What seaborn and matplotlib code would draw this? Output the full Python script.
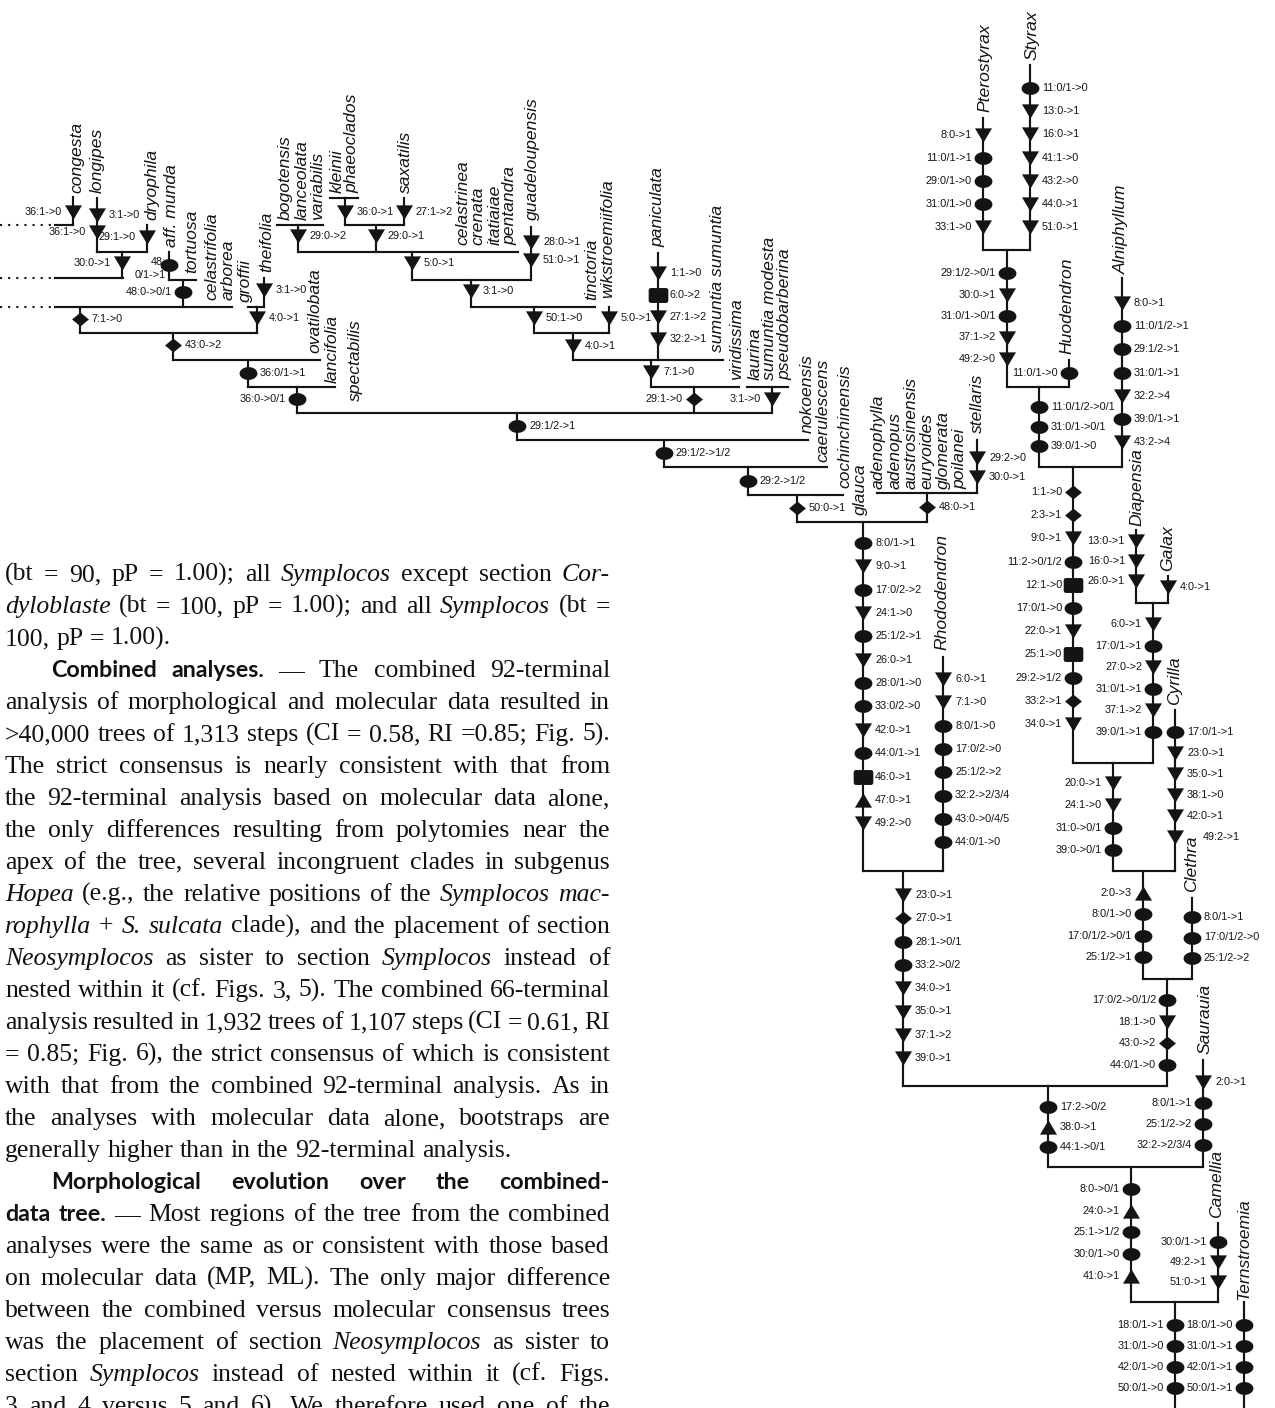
import numpy as np
import pandas as pd
import matplotlib
matplotlib.use("Agg")
import matplotlib.pyplot as plt
from matplotlib.path import Path
import seaborn as sns

# ------------------------------------------------------------------
# Tree content: terminal taxa and the character-state changes that
# are mapped on each branch (label, marker shape, label side).
# ------------------------------------------------------------------
taxa = [
    "congesta", "longipes", "dryophila", "aff. munda", "tortuosa", "celastrifolia",
    "arborea", "groffii", "theifolia", "bogotensis", "lanceolata", "variabilis",
    "kleinii", "phaeoclados", "saxatilis", "celastrinea", "crenata", "itatiaiae",
    "pentandra", "guadeloupensis", "ovatilobata", "lancifolia", "spectabilis",
    "tinctoria", "wikstroemiifolia", "paniculata", "sumuntia sumuntia", "viridissima",
    "laurina", "sumuntia modesta", "pseudobarberina", "nokoensis", "caerulescens",
    "cochinchinensis", "glauca", "adenophylla", "adenopus", "austrosinensis",
    "euryoides", "glomerata", "poilanei", "stellaris", "Rhododendron", "Pterostyrax",
    "Styrax", "Huodendron", "Alniphyllum", "Diapensia", "Galax", "Cyrilla",
    "Clethra", "Saurauia", "Camellia", "Ternstroemia",
]

branch_changes = {
    "congesta": [("36:1->0", "tri", "L")],
    "longipes": [("3:1->0", "tri", "R"), ("36:1->0", "tri", "L")],
    "dryophila": [("29:1->0", "tri", "L")],
    "congesta-dryophila": [("30:0->1", "tri", "L")],
    "aff. munda": [("48:\n0/1->1", "ell", "L")],
    "munda-tortuosa": [("48:0->0/1", "ell", "L")],
    "theifolia": [("3:1->0", "tri", "R")],
    "groffii-theifolia": [("4:0->1", "tri", "R")],
    "congesta-arborea": [("7:1->0", "dia", "R")],
    "congesta-theifolia": [("43:0->2", "dia", "R")],
    "congesta-ovatilobata": [("36:0/1->1", "ell", "R")],
    "congesta-lancifolia": [("36:0->0/1", "ell", "L")],
    "bogotensis-variabilis": [("29:0->2", "tri", "R")],
    "kleinii-phaeoclados": [("36:0->1", "tri", "R")],
    "saxatilis": [("27:1->2", "tri", "R")],
    "kleinii-saxatilis": [("29:0->1", "tri", "R")],
    "guadeloupensis": [("28:0->1", "tri", "R"), ("51:0->1", "tri", "R")],
    "bogotensis-pentandra": [("5:0->1", "tri", "R")],
    "bogotensis-guadeloupensis": [("3:1->0", "tri", "R")],
    "bogotensis-tinctoria": [("50:1->0", "tri", "R")],
    "wikstroemiifolia": [("5:0->1", "tri", "R")],
    "bogotensis-wikstroemiifolia": [("4:0->1", "tri", "R")],
    "paniculata": [("1:1->0", "tri", "R"), ("6:0->2", "sq", "R"),
                   ("27:1->2", "tri", "R"), ("32:2->1", "tri", "R")],
    "bogotensis-sumuntia": [("7:1->0", "tri", "R")],
    "bogotensis-viridissima": [("29:1->0", "dia", "L")],
    "laurina-pseudobarberina": [("3:1->0", "tri", "L")],
    "core Symplocos": [("29:1/2->1", "ell", "R")],
    "plus nokoensis": [("29:1/2->1/2", "ell", "R")],
    "plus caerulescens": [("29:2->1/2", "ell", "R")],
    "plus cochinchinensis": [("50:0->1", "dia", "R")],
    "adenophylla-stellaris": [("48:0->1", "dia", "R")],
    "stellaris": [("29:2->0", "tri", "R"), ("30:0->1", "tri", "R")],
    "Symplocaceae": [("8:0/1->1", "ell", "R"), ("9:0->1", "tri", "R"),
                     ("17:0/2->2", "ell", "R"), ("24:1->0", "tri", "R"),
                     ("25:1/2->1", "ell", "R"), ("26:0->1", "tri", "R"),
                     ("28:0/1->0", "ell", "R"), ("33:0/2->0", "ell", "R"),
                     ("42:0->1", "tri", "R"), ("44:0/1->1", "ell", "R"),
                     ("46:0->1", "sq", "R"), ("47:0->1", "up", "R"),
                     ("49:2->0", "tri", "R")],
    "Rhododendron": [("6:0->1", "tri", "R"), ("7:1->0", "tri", "R"),
                     ("8:0/1->0", "ell", "R"), ("17:0/2->0", "ell", "R"),
                     ("25:1/2->2", "ell", "R"), ("32:2->2/3/4", "ell", "R"),
                     ("43:0->0/4/5", "ell", "R"), ("44:0/1->0", "ell", "R")],
    "Symplocaceae-Ericaceae": [("23:0->1", "tri", "R"), ("27:0->1", "dia", "R"),
                               ("28:1->0/1", "ell", "R"), ("33:2->0/2", "ell", "R"),
                               ("34:0->1", "tri", "R"), ("35:0->1", "tri", "R"),
                               ("37:1->2", "tri", "R"), ("39:0->1", "tri", "R")],
    "Symplocaceae-Clethra": [("17:2->0/2", "ell", "R"), ("38:0->1", "up", "R"),
                             ("44:1->0/1", "ell", "R")],
    "Saurauia": [("2:0->1", "tri", "R"), ("8:0/1->1", "ell", "L"),
                 ("25:1/2->2", "ell", "L"), ("32:2->2/3/4", "ell", "L")],
    "Symplocaceae-Saurauia": [("8:0->0/1", "ell", "L"), ("24:0->1", "up", "L"),
                              ("25:1->1/2", "ell", "L"), ("30:0/1->0", "ell", "L"),
                              ("41:0->1", "up", "L")],
    "Camellia": [("30:0/1->1", "ell", "L"), ("49:2->1", "tri", "L"),
                 ("51:0->1", "tri", "L")],
    "ingroup": [("18:0/1->1", "ell", "L"), ("31:0/1->0", "ell", "L"),
                ("42:0/1->0", "ell", "L"), ("50:0/1->0", "ell", "L")],
    "Ternstroemia": [("18:0/1->0", "ell", "L"), ("31:0/1->1", "ell", "L"),
                     ("42:0/1->1", "ell", "L"), ("50:0/1->1", "ell", "L")],
    "Pterostyrax": [("8:0->1", "tri", "L"), ("11:0/1->1", "ell", "L"),
                    ("29:0/1->0", "ell", "L"), ("31:0/1->0", "ell", "L"),
                    ("33:1->0", "tri", "L")],
    "Styrax": [("11:0/1->0", "ell", "R"), ("13:0->1", "tri", "R"),
               ("16:0->1", "tri", "R"), ("41:1->0", "tri", "R"),
               ("43:2->0", "tri", "R"), ("44:0->1", "tri", "R"),
               ("51:0->1", "tri", "R")],
    "Pterostyrax-Styrax": [("29:1/2->0/1", "ell", "L"), ("30:0->1", "tri", "L"),
                           ("31:0/1->0/1", "ell", "L"), ("37:1->2", "tri", "L"),
                           ("49:2->0", "tri", "L")],
    "Huodendron": [("11:0/1->0", "ell", "L")],
    "Pterostyrax-Huodendron": [("11:0/1/2->0/1", "ell", "R"),
                               ("31:0/1->0/1", "ell", "R"),
                               ("39:0/1->0", "ell", "R")],
    "Alniphyllum": [("8:0->1", "tri", "R"), ("11:0/1/2->1", "ell", "R"),
                    ("29:1/2->1", "ell", "R"), ("31:0/1->1", "ell", "R"),
                    ("32:2->4", "tri", "R"), ("39:0/1->1", "ell", "R"),
                    ("43:2->4", "tri", "R")],
    "Styracaceae": [("1:1->0", "dia", "L"), ("2:3->1", "dia", "L"),
                    ("9:0->1", "tri", "L"), ("11:2->0/1/2", "ell", "L"),
                    ("12:1->0", "sq", "L"), ("17:0/1->0", "ell", "L"),
                    ("22:0->1", "tri", "L"), ("25:1->0", "sq", "L"),
                    ("29:2->1/2", "ell", "L"), ("33:2->1", "dia", "L"),
                    ("34:0->1", "tri", "L")],
    "Diapensia": [("13:0->1", "tri", "L"), ("16:0->1", "tri", "L"),
                  ("26:0->1", "tri", "L")],
    "Galax": [("4:0->1", "tri", "R")],
    "Diapensiaceae": [("6:0->1", "tri", "L"), ("17:0/1->1", "ell", "L"),
                      ("27:0->2", "tri", "L"), ("31:0/1->1", "ell", "L"),
                      ("37:1->2", "tri", "L"), ("39:0/1->1", "ell", "L")],
    "Cyrilla": [("17:0/1->1", "ell", "R"), ("23:0->1", "tri", "R"),
                ("35:0->1", "tri", "R"), ("38:1->0", "tri", "R"),
                ("42:0->1", "tri", "R"), ("49:2->1", "tri", "R")],
    "Styracaceae-Diapensiaceae": [("20:0->1", "tri", "L"), ("24:1->0", "tri", "L"),
                                  ("31:0->0/1", "ell", "L"), ("39:0->0/1", "ell", "L")],
    "Styracaceae-Cyrilla": [("2:0->3", "up", "L"), ("8:0/1->0", "ell", "L"),
                            ("17:0/1/2->0/1", "ell", "L"), ("25:1/2->1", "ell", "L")],
    "Clethra": [("8:0/1->1", "ell", "R"), ("17:0/1/2->0", "ell", "R"),
                ("25:1/2->2", "ell", "R")],
    "Styracaceae-Clethra": [("17:0/2->0/1/2", "ell", "L"), ("18:1->0", "tri", "L"),
                            ("43:0->2", "dia", "L"), ("44:0/1->0", "ell", "L")],
}

# ------------------------------------------------------------------
# Page layout (pixel coordinates, origin top-left)
# ------------------------------------------------------------------
taxon_pos = {
    "congesta": (77, 193), "longipes": (97, 193), "dryophila": (152, 220),
    "aff. munda": (172, 247), "tortuosa": (192, 273), "celastrifolia": (212, 300),
    "arborea": (228, 300), "groffii": (245, 302), "theifolia": (267, 272),
    "bogotensis": (285, 220), "lanceolata": (302, 220), "variabilis": (318, 220),
    "kleinii": (337, 193), "phaeoclados": (352, 193), "saxatilis": (405, 193),
    "celastrinea": (463, 245), "crenata": (478, 245), "itatiaiae": (495, 245),
    "pentandra": (510, 245), "guadeloupensis": (532, 220), "ovatilobata": (315, 353),
    "lancifolia": (332, 383), "spectabilis": (355, 401), "tinctoria": (592, 300),
    "wikstroemiifolia": (608, 298), "paniculata": (658, 247),
    "sumuntia sumuntia": (717, 352), "viridissima": (737, 380), "laurina": (755, 380),
    "sumuntia modesta": (770, 380), "pseudobarberina": (785, 380),
    "nokoensis": (807, 433), "caerulescens": (823, 462), "cochinchinensis": (845, 488),
    "glauca": (860, 515), "adenophylla": (878, 489), "adenopus": (895, 489),
    "austrosinensis": (911, 489), "euryoides": (927, 489), "glomerata": (943, 489),
    "poilanei": (960, 489), "stellaris": (977, 433), "Rhododendron": (942, 650),
    "Pterostyrax": (985, 112), "Styrax": (1032, 60), "Huodendron": (1067, 354),
    "Alniphyllum": (1121, 274), "Diapensia": (1137, 526), "Galax": (1168, 571),
    "Cyrilla": (1175, 705), "Clethra": (1192, 892), "Saurauia": (1205, 1054),
    "Camellia": (1217, 1218), "Ternstroemia": (1244, 1300),
}

# branch: (x, y of first change, spacing between successive changes)
branch_layout = {
    "congesta": (73, 212, 0), "longipes": (97, 215, 17), "dryophila": (147, 237, 0),
    "congesta-dryophila": (122, 263, 0), "aff. munda": (169, 265, 0),
    "munda-tortuosa": (183, 292, 0), "theifolia": (264, 290, 0),
    "groffii-theifolia": (257, 318, 0), "congesta-arborea": (80, 319, 0),
    "congesta-theifolia": (173, 345, 0), "congesta-ovatilobata": (248, 373, 0),
    "congesta-lancifolia": (297, 399, 0), "bogotensis-variabilis": (298, 236, 0),
    "kleinii-phaeoclados": (345, 212, 0), "saxatilis": (404, 212, 0),
    "kleinii-saxatilis": (376, 236, 0), "guadeloupensis": (531, 242, 18),
    "bogotensis-pentandra": (412, 263, 0), "bogotensis-guadeloupensis": (471, 291, 0),
    "bogotensis-tinctoria": (534, 318, 0), "wikstroemiifolia": (609, 318, 0),
    "bogotensis-wikstroemiifolia": (573, 346, 0), "paniculata": (658, 273, 22),
    "bogotensis-sumuntia": (651, 372, 0), "bogotensis-viridissima": (694, 399, 0),
    "laurina-pseudobarberina": (772, 399, 0), "core Symplocos": (517, 426, 0),
    "plus nokoensis": (664, 453, 0), "plus caerulescens": (748, 481, 0),
    "plus cochinchinensis": (797, 508, 0), "adenophylla-stellaris": (927, 507, 0),
    "stellaris": (977, 458, 19), "Symplocaceae": (863, 543, 23.35),
    "Rhododendron": (943, 679, 23.3), "Symplocaceae-Ericaceae": (903, 895, 23.3),
    "Symplocaceae-Clethra": (1048, 1107, 20), "Saurauia": (1203, 1082, 21),
    "Symplocaceae-Saurauia": (1131, 1189, 21.7), "Camellia": (1218, 1242, 20),
    "ingroup": (1175, 1325, 21), "Ternstroemia": (1244, 1325, 21),
    "Pterostyrax": (983, 135, 23), "Styrax": (1030, 88, 23.2),
    "Pterostyrax-Styrax": (1007, 273, 21.5), "Huodendron": (1069, 373, 0),
    "Pterostyrax-Huodendron": (1039, 407, 19.5), "Alniphyllum": (1122, 303, 23.2),
    "Styracaceae": (1073, 492, 23.2), "Diapensia": (1136, 541, 20),
    "Galax": (1168, 587, 0), "Diapensiaceae": (1153, 624, 21.6),
    "Cyrilla": (1175, 732, 21), "Styracaceae-Diapensiaceae": (1113, 783, 22.3),
    "Styracaceae-Cyrilla": (1143, 893, 21.3), "Clethra": (1192, 917, 20.5),
    "Styracaceae-Clethra": (1167, 1000, 21.7),
}

# extra horizontal shift for labels that sit beside a taxon name
label_nudge = {("Cyrilla", 5): 16}

# vertical edges (x, y_top, y_bottom)
v_edges = [
    (73, 197, 225), (97, 198, 252), (147, 225, 252), (122, 252, 278),
    (169, 252, 280), (183, 280, 307), (264, 278, 307), (257, 307, 333),
    (80, 307, 333), (173, 333, 360), (248, 360, 387), (297, 387, 413),
    (298, 225, 252), (345, 198, 225), (404, 198, 225), (376, 225, 252),
    (531, 227, 280), (412, 252, 280), (471, 280, 307), (534, 307, 333),
    (609, 307, 333), (573, 333, 360), (658, 253, 360), (651, 360, 387),
    (694, 387, 413), (772, 387, 413), (517, 413, 440), (664, 440, 467),
    (748, 467, 495), (797, 495, 522), (927, 493, 522), (977, 440, 493),
    (863, 522, 871), (943, 657, 871), (903, 871, 1086), (1048, 1086, 1167),
    (1203, 1060, 1167), (1131, 1167, 1302), (1218, 1223, 1302), (1175, 1302, 1410),
    (1244, 1302, 1410), (983, 118, 250), (1030, 65, 250), (1007, 250, 387),
    (1069, 360, 387), (1039, 387, 467), (1122, 278, 467), (1073, 467, 763),
    (1136, 530, 603), (1168, 576, 603), (1153, 603, 763), (1175, 710, 871),
    (1113, 763, 871), (1143, 871, 979), (1192, 898, 979), (1167, 979, 1086),
]

# horizontal edges (y, x_left, x_right)
h_edges = [
    (225, 55, 73), (252, 97, 147), (278, 55, 123), (280, 169, 196),
    (307, 55, 232), (307, 248, 264), (333, 80, 257), (360, 173, 320),
    (387, 248, 335), (413, 297, 772), (225, 277, 323), (198, 330, 358),
    (225, 345, 404), (252, 298, 518), (280, 412, 531), (307, 471, 595),
    (333, 534, 609), (360, 573, 723), (387, 651, 739), (387, 747, 788),
    (440, 517, 808), (467, 664, 827), (495, 748, 843), (522, 797, 927),
    (493, 877, 977), (871, 863, 943), (1086, 903, 1167), (1167, 1048, 1203),
    (1302, 1131, 1218), (250, 983, 1030), (387, 1007, 1069), (467, 1039, 1122),
    (603, 1136, 1168), (763, 1073, 1153), (871, 1113, 1175), (979, 1143, 1192),
]

# branches that continue off the left edge of the page
dotted_edges = [(225, 0, 52), (278, 0, 52), (307, 0, 52)]

# ------------------------------------------------------------------
# Running text beside the tree
# ( _word_ = italic, *word* = bold heading face )
# ------------------------------------------------------------------
body_lines = [
    "(bt = 90, pP = 1.00); all _Symplocos_ except section _Cor-_",
    "_dyloblaste_ (bt = 100, pP = 1.00); and all _Symplocos_ (bt =",
    "100, pP = 1.00).",
    "*Combined* *analyses.* — The combined 92-terminal",
    "analysis of morphological and molecular data resulted in",
    ">40,000 trees of 1,313 steps (CI = 0.58, RI =0.85; Fig. 5).",
    "The strict consensus is nearly consistent with that from",
    "the 92-terminal analysis based on molecular data alone,",
    "the only differences resulting from polytomies near the",
    "apex of the tree, several incongruent clades in subgenus",
    "_Hopea_ (e.g., the relative positions of the _Symplocos_ _mac-_",
    "_rophylla_ + _S._ _sulcata_ clade), and the placement of section",
    "_Neosymplocos_ as sister to section _Symplocos_ instead of",
    "nested within it (cf. Figs. 3, 5). The combined 66-terminal",
    "analysis resulted in 1,932 trees of 1,107 steps (CI = 0.61, RI",
    "= 0.85; Fig. 6), the strict consensus of which is consistent",
    "with that from the combined 92-terminal analysis. As in",
    "the analyses with molecular data alone, bootstraps are",
    "generally higher than in the 92-terminal analysis.",
    "*Morphological* *evolution* *over* *the* *combined-*",
    "*data* *tree.* — Most regions of the tree from the combined",
    "analyses were the same as or consistent with those based",
    "on molecular data (MP, ML). The only major difference",
    "between the combined versus molecular consensus trees",
    "was the placement of section _Neosymplocos_ as sister to",
    "section _Symplocos_ instead of nested within it (cf. Figs.",
    "3 and 4 versus 5 and 6). We therefore used one of the",
]
paragraph_starts = {3, 19}
paragraph_ends = {2, 18}

# ------------------------------------------------------------------
# Drawing
# ------------------------------------------------------------------
sns.set_theme(style="white")
plt.rcParams["font.family"] = ["Liberation Sans", "DejaVu Sans"]

W, H = 1275, 1408
fig = plt.figure(figsize=(W / 100, H / 100), dpi=100)
fig.patch.set_facecolor("white")
ax = fig.add_axes([0, 0, 1, 1])
ax.set_facecolor("white")

INK = "#141414"
LW = 1.55

ax.vlines([e[0] for e in v_edges], [e[1] for e in v_edges], [e[2] for e in v_edges],
          colors=INK, lw=LW, capstyle="projecting", zorder=2)
ax.hlines([e[0] for e in h_edges], [e[1] for e in h_edges], [e[2] for e in h_edges],
          colors=INK, lw=LW, capstyle="projecting", zorder=2)
ax.hlines([e[0] for e in dotted_edges], [e[1] for e in dotted_edges],
          [e[2] for e in dotted_edges], colors=INK, lw=1.5,
          linestyles=[(0, (1, 2.9))], zorder=2)


def _poly(pts):
    pts = list(pts) + [pts[0]]
    codes = [Path.MOVETO] + [Path.LINETO] * (len(pts) - 2) + [Path.CLOSEPOLY]
    return Path(pts, codes)


def _rounded_rect(w, h, r, n=6):
    pts = []
    corners = [(w / 2 - r, h / 2 - r, 0), (-w / 2 + r, h / 2 - r, 90),
               (-w / 2 + r, -h / 2 + r, 180), (w / 2 - r, -h / 2 + r, 270)]
    for cx, cy, a0 in corners:
        for a in np.linspace(np.radians(a0), np.radians(a0 + 90), n):
            pts.append((cx + r * np.cos(a), cy + r * np.sin(a)))
    return _poly(pts)


_t = np.linspace(0, 2 * np.pi, 40, endpoint=False)
MARKERS = {
    "tri": _poly([(-0.5, 0.42), (0.5, 0.42), (0.0, -0.42)]),
    "up": _poly([(-0.5, -0.42), (0.5, -0.42), (0.0, 0.42)]),
    "ell": _poly(list(zip(0.5 * np.cos(_t), 0.36 * np.sin(_t)))),
    "dia": _poly([(0.0, 0.41), (0.5, 0.0), (0.0, -0.41), (-0.5, 0.0)]),
    "sq": _rounded_rect(1.0, 0.76, 0.12),
}
SIZES = {"tri": 150, "up": 150, "ell": 165, "dia": 148, "sq": 200}

rows = []
for name, changes in branch_changes.items():
    x, y0, step = branch_layout[name]
    for i, (lab, shp, side) in enumerate(changes):
        rows.append((name, i, x, y0 + i * step, shp, lab, side))
marks = pd.DataFrame(rows, columns=["branch", "k", "x", "y", "shape", "label", "side"])

for shp, grp in marks.groupby("shape"):
    sns.scatterplot(data=grp, x="x", y="y", marker=MARKERS[shp], s=SIZES[shp],
                    color=INK, linewidth=0, ax=ax, legend=False, zorder=3)

for r in marks.itertuples():
    dx = label_nudge.get((r.branch, r.k), 0)
    if r.side == "R":
        ax.text(r.x + 12 + dx, r.y, r.label, ha="left", va="center", fontsize=7.8,
                color=INK, family="Liberation Sans", zorder=4)
    elif "\n" in r.label:
        ax.text(r.x - 3, r.y - 8, r.label, ha="right", va="top", fontsize=7.8,
                color=INK, family="Liberation Sans", linespacing=1.35,
                multialignment="right", zorder=4)
    else:
        ax.text(r.x - 11 - dx, r.y, r.label, ha="right", va="center", fontsize=7.8,
                color=INK, family="Liberation Sans", zorder=4)

for name in taxa:
    x, yb = taxon_pos[name]
    ax.text(x, yb, name, rotation=90, ha="center", va="bottom", fontsize=12.6,
            style="italic", family="Liberation Sans", color=INK, zorder=4)

ax.set_xlim(0, W)
ax.set_ylim(H, 0)
ax.axis("off")

# ---- justified two-paragraph text column ----
STY = {
    "rm": dict(family="Liberation Serif"),
    "it": dict(family="Liberation Serif", style="italic"),
    "bf": dict(family="Lato", weight="bold"),
}
COL_L, COL_R, INDENT = 5, 610, 46
BASE0, LEAD = 581, 32.0


def tokens(line):
    out = []
    for w in line.split(" "):
        if len(w) > 2 and w.startswith("_") and w.endswith("_"):
            out.append((w[1:-1], "it"))
        elif len(w) > 2 and w.startswith("*") and w.endswith("*"):
            out.append((w[1:-1], "bf"))
        else:
            out.append((w, "rm"))
    return out


renderer = fig.canvas.get_renderer()


def place_words(fs, draw, min_space=0.19):
    widest = 0
    for i, line in enumerate(body_lines):
        toks = tokens(line)
        arts, widths = [], []
        for word, kind in toks:
            size = fs * (0.9 if kind == "bf" else 1.0)
            t = ax.text(0, BASE0 + i * LEAD, word, fontsize=size, va="baseline",
                        ha="left", color="#111111", zorder=5, **STY[kind])
            widths.append(t.get_window_extent(renderer).width)
            arts.append(t)
        x0 = COL_L + (INDENT if i in paragraph_starts else 0)
        px_per_em = fs * 100 / 72
        tight = sum(widths) + min_space * px_per_em * (len(widths) - 1)
        if i not in paragraph_ends and i != len(body_lines) - 1:
            widest = max(widest, tight + x0 - COL_L)
        if not draw:
            for t in arts:
                t.remove()
            continue
        if i in paragraph_ends or len(arts) == 1:
            gap = 0.25 * px_per_em
        else:
            gap = (COL_R - x0 - sum(widths)) / (len(widths) - 1)
        x = x0
        for t, w in zip(arts, widths):
            t.set_x(x)
            x += w + gap
    return widest


fs0 = 26.0
wid = place_words(fs0, draw=False)
fs = fs0 * min(1.0, (COL_R - COL_L - 2) / wid)
place_words(fs, draw=True)

fig.savefig("out.png", dpi=100, facecolor="white")
